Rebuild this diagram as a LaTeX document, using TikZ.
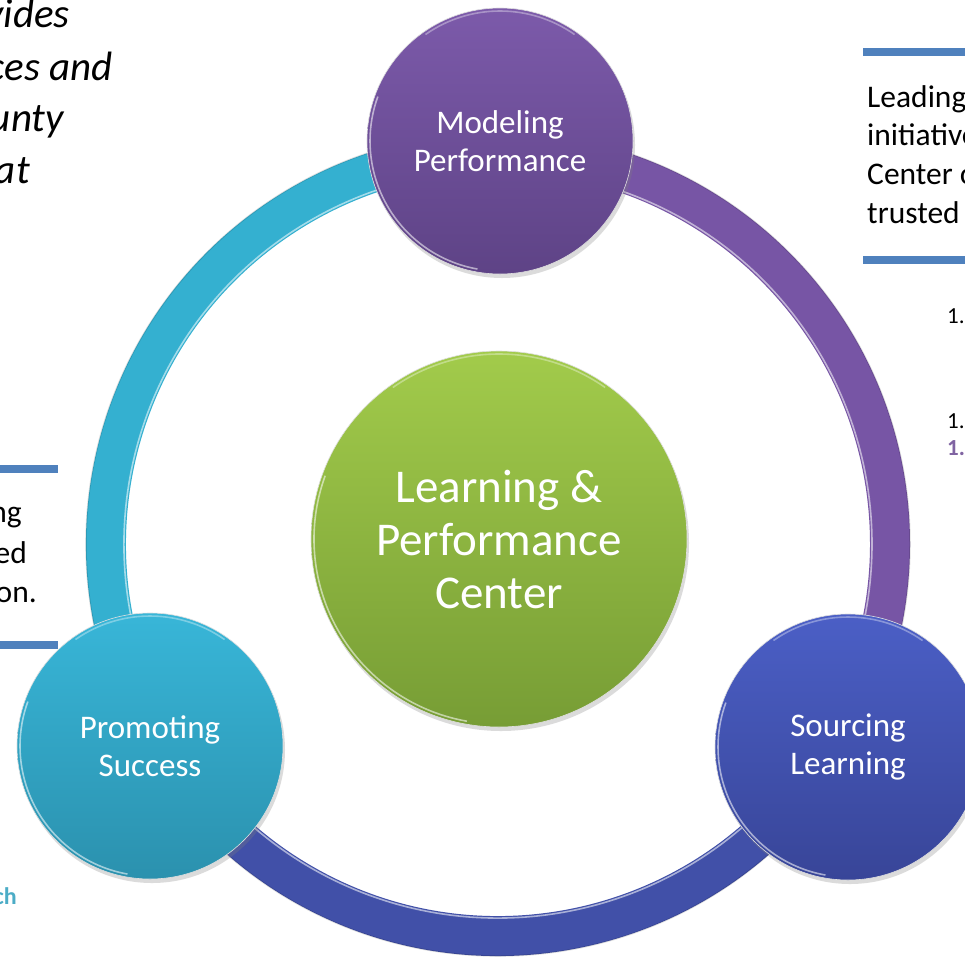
\documentclass[tikz,border=0pt]{standalone}
\usepackage{fontspec}
\setmainfont{Carlito}
\usetikzlibrary{shadows}
\definecolor{tealA}{HTML}{38B6D8}
\definecolor{tealB}{HTML}{2B91AE}
\definecolor{purA}{HTML}{7C5AAA}
\definecolor{purB}{HTML}{5E4386}
\definecolor{grnA}{HTML}{A2CB4B}
\definecolor{grnB}{HTML}{779D35}
\definecolor{bluA}{HTML}{4B5FC6}
\definecolor{bluB}{HTML}{384598}
\definecolor{ringteal}{HTML}{34B0D0}
\definecolor{ringpur}{HTML}{7755A5}
\definecolor{ringblue}{HTML}{4150A8}
\definecolor{barblue}{HTML}{4F81BD}
\definecolor{purtext}{HTML}{8064A2}
\definecolor{tealtext}{HTML}{4BACC6}
\begin{document}
\begin{tikzpicture}[x=1pt,y=-1pt,
  ball/.style={circle, inner sep=0pt, minimum size=#1, draw=white!75!gray, line width=0.6pt,
    drop shadow={opacity=0.28, shadow xshift=2pt, shadow yshift=-4pt},
    text=white, align=center},
  ringarc/.style={line width=40pt},
  glint/.style={white, opacity=0.55, line width=1.6pt},
  bar/.style={fill=barblue, draw=none},
  sidetext/.style={inner sep=0pt, font=\fontsize{31.5}{39}\selectfont},
  bigital/.style={inner sep=0pt, font=\fontsize{41}{52}\selectfont\itshape},
  numtext/.style={inner sep=0pt, font=\fontsize{23}{27}\selectfont}
]
\useasboundingbox (0,0) rectangle (965,959);
\clip (0,0) rectangle (965,959);
\fill[white] (0,0) rectangle (965,959);

% ring
\coordinate (R) at (498,544);
\draw[ringarc, ringteal] (R) ++(150:392) arc[start angle=150, end angle=270, radius=392];
\draw[ringarc, ringpur]  (R) ++(270:392) arc[start angle=270, end angle=390, radius=392];
\draw[ringarc, ringblue] (R) ++(30:392)  arc[start angle=30,  end angle=150, radius=392];
\draw[glint] (R) ++(150:374) arc[start angle=150, end angle=390, radius=374];
\draw[glint] (R) ++(30:374) arc[start angle=30, end angle=150, radius=374];
\draw[black, opacity=0.12, line width=1.5pt] (R) ++(0:412) arc[start angle=0, end angle=360, radius=412];

% balls
\node[ball=266pt, top color=purA, bottom color=purB, font=\fontsize{33}{38}\selectfont] (model) at (500,141) {Modeling\\Performance};
\node[ball=266pt, top color=tealA, bottom color=tealB, font=\fontsize{33}{38}\selectfont] (promo) at (150,746) {Promoting\\Success};
\node[ball=266pt, top color=bluA, bottom color=bluB, font=\fontsize{33}{38}\selectfont] (source) at (848,747) {Sourcing\\Learning};
\node[ball=376pt, top color=grnA, bottom color=grnB, font=\fontsize{47}{53}\selectfont] (center) at (499,539) {Learning \&\\Performance\\Center};

% glints on balls
\foreach \c/\r in {model/130, promo/130, source/130, center/185}{
  \draw[glint] (\c.center) ++(100:\r) arc[start angle=100, end angle=200, radius=\r];
  \draw[glint, opacity=0.35] (\c.center) ++(235:\r) arc[start angle=235, end angle=305, radius=\r];
}

% top-left italic text
\node[bigital, anchor=base east] (tl1) at (70,27) {vides};
\node[bigital, anchor=base east] (tl2) at (113,80) {ces and};
\node[bigital, anchor=base east] (tl3) at (64,131) {unty};
\node[bigital, anchor=base east] (tl4) at (30,183) {at};

% right text block
\fill[bar] (863,48) rectangle (965,56);
\node[sidetext, anchor=base west] (r1) at (867,107) {Leading};
\node[sidetext, anchor=base west] (r2) at (867,145) {initiative};
\node[sidetext, anchor=base west] (r3) at (867,184) {Center o};
\node[sidetext, anchor=base west] (r4) at (867,223) {trusted};
\fill[bar] (863,256) rectangle (965,264);

\node[numtext, anchor=base west] (n1) at (947,323) {1.};
\node[numtext, anchor=base west] (n2) at (947,428) {1.};
\node[numtext, anchor=base west, text=purtext, font=\fontsize{23}{27}\selectfont\bfseries] (n3) at (947,455) {1.};

% left text block
\fill[bar] (0,465) rectangle (58,473);
\node[sidetext, anchor=base east] (l1) at (22,522) {ng};
\node[sidetext, anchor=base east] (l2) at (27,563) {ed};
\node[sidetext, anchor=base east] (l3) at (37,602) {on.};
\fill[bar] (0,641) rectangle (58,649);

\node[inner sep=0pt, anchor=base east, text=tealtext, font=\fontsize{24}{28}\selectfont\bfseries] (ch) at (17,904) {ch};
\end{tikzpicture}
\end{document}
